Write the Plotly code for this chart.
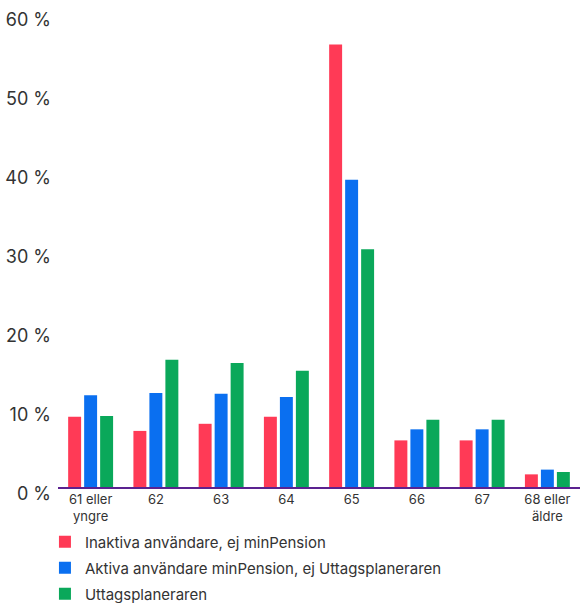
import plotly.graph_objects as go

# Age at first withdrawal, share of each user group (percent)
categories = ["61 eller<br>yngre", "62", "63", "64", "65", "66", "67", "68 eller<br>äldre"]
series_names = [
    "Inaktiva användare, ej minPension",
    "Aktiva användare minPension, ej Uttagsplaneraren",
    "Uttagsplaneraren",
]
inaktiva = [8.9, 7.1, 8.0, 8.9, 56.0, 5.9, 5.9, 1.6]
aktiva = [11.6, 11.9, 11.8, 11.4, 38.9, 7.3, 7.3, 2.2]
uttag = [9.0, 16.1, 15.7, 14.7, 30.1, 8.5, 8.5, 1.9]
y_ticks = [0, 10, 20, 30, 40, 50, 60]
y_ticktext = [f"{v} %" for v in y_ticks]

colors = ["#ff3a56", "#0a6ff0", "#0aa85a"]
FONT = "Inter, Noto Sans, sans-serif"
TEXT = "#333333"

fig = go.Figure()
for i, (name, vals) in enumerate(zip(series_names, [inaktiva, aktiva, uttag])):
    fig.add_trace(go.Bar(
        x=categories, y=vals, name=name,
        marker=dict(color=colors[i], line=dict(width=0)),
        legendgroup=f"g{i}",
        hovertemplate="%{y:.1f} %<extra>" + name + "</extra>",
    ))

fig.update_layout(
    width=580, height=603,
    margin=dict(l=58, r=0, t=13, b=116, autoexpand=False),
    paper_bgcolor="white", plot_bgcolor="white",
    barmode="group", bargap=0.265, bargroupgap=0.19,
    font=dict(family=FONT, color=TEXT),
    showlegend=True,
    legend=dict(
        orientation="v", x=-0.025, xanchor="left", y=-0.081, yanchor="top",
        font=dict(size=15, color=TEXT, family=FONT),
        tracegroupgap=3.5, itemwidth=30,
        bgcolor="rgba(0,0,0,0)",
    ),
)
fig.update_xaxes(
    showline=True, linecolor="#5b2290", linewidth=1.5,
    showgrid=False, zeroline=False, ticks="",
    tickfont=dict(size=13, color=TEXT, family=FONT),
    fixedrange=True,
)
fig.update_yaxes(
    range=[0, 60], tickmode="array", tickvals=y_ticks, ticktext=y_ticktext,
    showgrid=False, zeroline=False, showline=False, ticks="",
    ticklabelshift=7, ticklabelstandoff=6,
    tickfont=dict(size=18, color=TEXT, family=FONT),
    fixedrange=True,
)

fig.write_html("out.html")
